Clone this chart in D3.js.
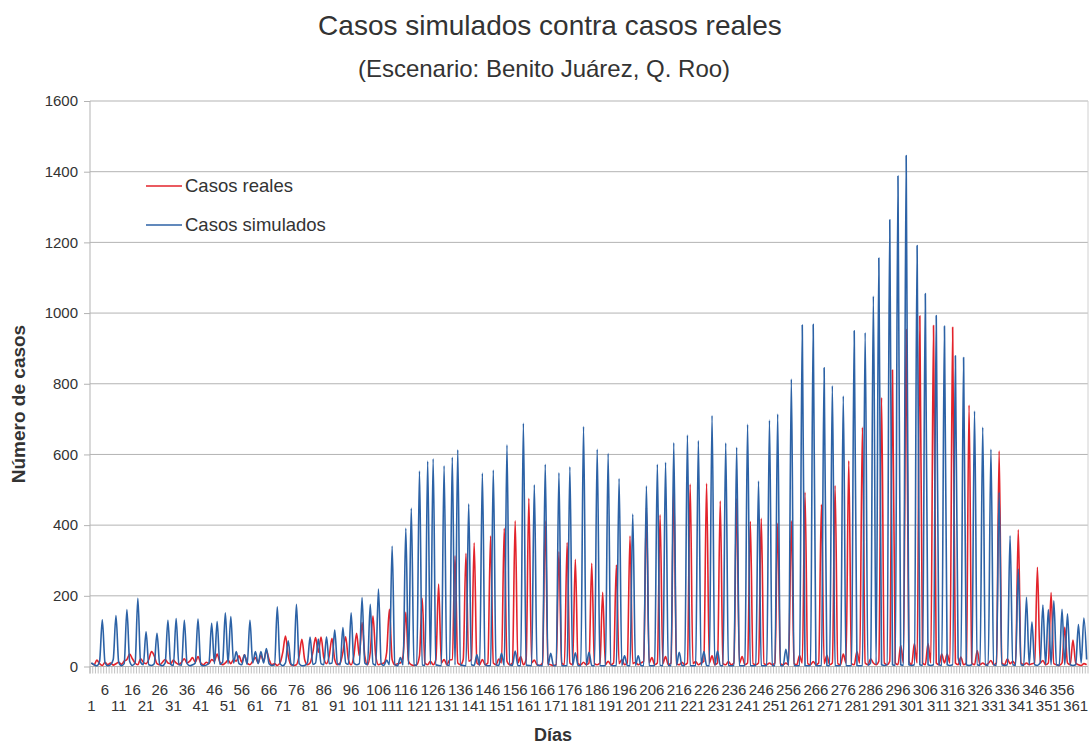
<!DOCTYPE html>
<html>
<head>
<meta charset="utf-8">
<script src="https://cdn.jsdelivr.net/npm/d3@7"></script>
<style>
  html, body { margin: 0; padding: 0; background: #ffffff; }
  svg { display: block; font-family: "Liberation Sans", Arial, sans-serif; }
</style>
</head>
<body>
<svg id="chart" width="1090" height="747"></svg>
<script>
// Daily counts, day 1 to day 365 (ten days per row)
const casosReales = [
  10, 5, 18, 8, 3, 12, 5, 10, 4, 8,
  12, 6, 15, 20, 35, 22, 10, 5, 22, 12,
  8, 20, 42, 30, 8, 5, 12, 20, 10, 8,
  18, 10, 6, 12, 22, 10, 15, 25, 12, 28,
  10, 5, 12, 8, 20, 15, 35, 12, 5, 10,
  18, 8, 20, 15, 30, 12, 33, 10, 5, 15,
  25, 10, 32, 15, 45, 20, 5, 8, 3, 10,
  40, 86, 30, 5, 3, 5, 30, 77, 20, 5,
  10, 40, 82, 40, 83, 25, 8, 30, 80, 20,
  5, 10, 40, 84, 20, 5, 30, 94, 30, 124,
  30, 5, 40, 143, 30, 5, 8, 10, 40, 162,
  20, 5, 8, 10, 30, 153, 15, 5, 3, 5,
  30, 193, 10, 5, 15, 5, 20, 233, 10, 20,
  5, 18, 20, 313, 10, 5, 20, 320, 15, 20,
  350, 10, 5, 20, 5, 10, 369, 10, 5, 21,
  10, 391, 15, 5, 10, 412, 10, 28, 5, 20,
  476, 10, 18, 5, 3, 10, 412, 8, 5, 3,
  5, 325, 10, 5, 351, 10, 5, 303, 8, 5,
  12, 5, 10, 292, 8, 5, 10, 210, 5, 15,
  5, 10, 287, 8, 20, 5, 10, 369, 8, 12,
  5, 10, 15, 450, 10, 25, 5, 10, 429, 8,
  28, 5, 10, 507, 8, 5, 12, 5, 10, 516,
  8, 14, 5, 10, 15, 518, 10, 30, 5, 10,
  468, 8, 5, 14, 5, 10, 476, 8, 28, 5,
  10, 410, 8, 5, 10, 419, 8, 5, 10, 5,
  10, 405, 8, 5, 10, 5, 412, 8, 5, 31,
  10, 493, 8, 5, 14, 5, 10, 459, 8, 32,
  5, 10, 512, 8, 5, 35, 10, 582, 8, 5,
  42, 10, 677, 10, 5, 22, 10, 5, 15, 761,
  10, 5, 15, 839, 10, 5, 60, 10, 953, 15,
  5, 65, 10, 992, 10, 5, 65, 10, 965, 10,
  5, 35, 10, 35, 10, 960, 10, 5, 27, 5,
  10, 740, 10, 5, 45, 5, 10, 5, 8, 17,
  5, 10, 610, 10, 5, 22, 8, 15, 5, 387,
  10, 5, 10, 5, 8, 10, 281, 10, 17, 5,
  10, 209, 8, 5, 3, 10, 111, 10, 5, 75,
  10, 5, 3, 8, 5
];

const casosSimulados = [
  10, 5, 2, 15, 132, 10, 2, 5, 20, 144,
  12, 2, 8, 161, 15, 3, 10, 193, 12, 5,
  98, 5, 3, 8, 94, 6, 2, 10, 131, 6,
  3, 136, 5, 4, 131, 8, 2, 5, 10, 134,
  6, 2, 4, 10, 122, 8, 127, 6, 12, 152,
  8, 141, 10, 42, 8, 5, 33, 6, 131, 10,
  42, 8, 42, 10, 51, 8, 3, 5, 169, 8,
  2, 10, 73, 8, 3, 176, 8, 2, 3, 10,
  83, 6, 10, 78, 8, 5, 84, 8, 10, 103,
  8, 5, 110, 10, 6, 152, 10, 5, 8, 195,
  10, 5, 176, 8, 4, 219, 8, 3, 18, 5,
  341, 5, 2, 25, 5, 391, 5, 448, 4, 3,
  553, 4, 3, 581, 5, 588, 5, 3, 2, 568,
  4, 3, 592, 4, 613, 5, 3, 2, 460, 5,
  3, 33, 3, 547, 5, 2, 3, 556, 4, 3,
  37, 3, 627, 5, 3, 44, 3, 2, 688, 4,
  3, 2, 514, 4, 3, 2, 572, 3, 37, 3,
  2, 548, 3, 2, 3, 565, 3, 39, 3, 2,
  679, 3, 40, 3, 2, 615, 3, 2, 3, 603,
  4, 2, 3, 532, 3, 30, 3, 2, 431, 3,
  30, 3, 2, 511, 3, 2, 3, 572, 4, 2,
  578, 3, 2, 633, 3, 40, 3, 2, 655, 3,
  2, 3, 639, 3, 42, 3, 2, 710, 3, 44,
  3, 2, 632, 3, 2, 3, 620, 3, 2, 3,
  685, 3, 2, 3, 525, 3, 2, 3, 697, 3,
  2, 714, 3, 2, 49, 3, 813, 3, 2, 3,
  966, 3, 2, 3, 968, 3, 2, 3, 845, 3,
  2, 794, 3, 2, 3, 765, 3, 2, 3, 950,
  3, 2, 3, 945, 3, 10, 1048, 5, 1156, 5,
  3, 5, 1264, 5, 3, 1388, 5, 3, 1446, 5,
  3, 5, 1191, 5, 3, 1055, 5, 3, 5, 993,
  5, 3, 963, 5, 3, 5, 879, 25, 3, 874,
  5, 3, 5, 723, 5, 3, 677, 5, 3, 615,
  5, 3, 493, 5, 3, 5, 370, 5, 3, 276,
  5, 3, 196, 5, 126, 5, 3, 10, 174, 5,
  161, 5, 186, 5, 3, 162, 5, 149, 5, 3,
  5, 119, 10, 137, 20
];

const dias = d3.range(1, casosReales.length + 1);
const yTicks = [0, 200, 400, 600, 800, 1000, 1200, 1400, 1600];
const series = [
  { name: "Casos reales", values: casosReales, color: "#e3232b" },
  { name: "Casos simulados", values: casosSimulados, color: "#2c62a6" }
];

const svg = d3.select("#chart");
const plot = { left: 90, right: 1088, top: 101, bottom: 666.5 };
const gridColor = "#b3b3b3";
const textColor = "#333333";

const x = d3.scaleBand().domain(dias).range([plot.left, plot.right]).padding(0);
const cx = d => x(d) + x.bandwidth() / 2;
const y = d3.scaleLinear().domain([0, 1600]).range([plot.bottom, plot.top]);

// Titles
svg.append("text")
  .attr("x", 550).attr("y", 35)
  .attr("text-anchor", "middle")
  .attr("font-size", 28).attr("fill", textColor)
  .text("Casos simulados contra casos reales");
svg.append("text")
  .attr("x", 544).attr("y", 77)
  .attr("text-anchor", "middle")
  .attr("font-size", 24).attr("fill", textColor)
  .text("(Escenario: Benito Juárez, Q. Roo)");

// Horizontal gridlines and y axis
const yAxis = d3.axisLeft(y).tickValues(yTicks).tickFormat(d3.format("d"))
  .tickSize(6).tickPadding(6);
const gy = svg.append("g").attr("transform", `translate(${plot.left},0)`).call(yAxis);
gy.select(".domain").remove();
gy.selectAll(".tick line").attr("stroke", gridColor);
gy.selectAll(".tick text")
  .attr("font-size", 15).attr("fill", textColor)
  .attr("font-family", "'Liberation Sans', Arial, sans-serif");

svg.append("g").selectAll("line").data(yTicks).join("line")
  .attr("x1", plot.left).attr("x2", plot.right)
  .attr("y1", d => y(d)).attr("y2", d => y(d))
  .attr("stroke", gridColor).attr("stroke-width", 1);

svg.append("line")
  .attr("x1", plot.left).attr("x2", plot.left)
  .attr("y1", plot.top).attr("y2", plot.bottom + 7)
  .attr("stroke", gridColor);
svg.append("line")
  .attr("x1", plot.right).attr("x2", plot.right)
  .attr("y1", plot.top).attr("y2", plot.bottom)
  .attr("stroke", "#d0d0d0");

// Category ticks between days
const boundaries = dias.map(d => x(d)).concat([plot.right]);
svg.append("g").selectAll("line").data(boundaries).join("line")
  .attr("x1", d => d).attr("x2", d => d)
  .attr("y1", plot.bottom).attr("y2", plot.bottom + 7)
  .attr("stroke", gridColor).attr("stroke-width", 0.8);

// Day labels every five days, staggered in two rows
const xAxis = d3.axisBottom(x)
  .tickValues(dias.filter(d => (d - 1) % 5 === 0))
  .tickSize(0).tickPadding(0);
const gx = svg.append("g").attr("transform", `translate(0,${plot.bottom})`).call(xAxis);
gx.select(".domain").remove();
gx.selectAll(".tick text")
  .attr("font-size", 15).attr("fill", textColor)
  .attr("font-family", "'Liberation Sans', Arial, sans-serif")
  .attr("dy", null)
  .attr("y", d => (((d - 1) / 5) % 2 === 0) ? 44 : 28);

// Axis titles
svg.append("text")
  .attr("transform", "translate(25,404) rotate(-90)")
  .attr("text-anchor", "middle")
  .attr("font-size", 19).attr("font-weight", "bold").attr("fill", textColor)
  .text("Número de casos");
svg.append("text")
  .attr("x", 553).attr("y", 741)
  .attr("text-anchor", "middle")
  .attr("font-size", 18).attr("font-weight", "bold").attr("fill", textColor)
  .text("Días");

// Series lines
const line = d3.line()
  .x((v, i) => cx(dias[i]))
  .y(v => y(v))
  .curve(d3.curveMonotoneX);

svg.append("g").selectAll("path").data(series).join("path")
  .attr("d", s => line(s.values))
  .attr("fill", "none")
  .attr("stroke", s => s.color)
  .attr("stroke-width", 1.6)
  .attr("stroke-linejoin", "round");

// Legend
const legend = svg.append("g").selectAll("g").data(series).join("g")
  .attr("transform", (s, i) => `translate(146,${186 + i * 39})`);
legend.append("line")
  .attr("x1", 0).attr("x2", 36).attr("y1", 0).attr("y2", 0)
  .attr("stroke", s => s.color).attr("stroke-width", 1.5);
legend.append("text")
  .attr("x", 39).attr("y", 0).attr("dy", "0.35em")
  .attr("font-size", 18.5).attr("fill", textColor)
  .text(s => s.name);
</script>
</body>
</html>
